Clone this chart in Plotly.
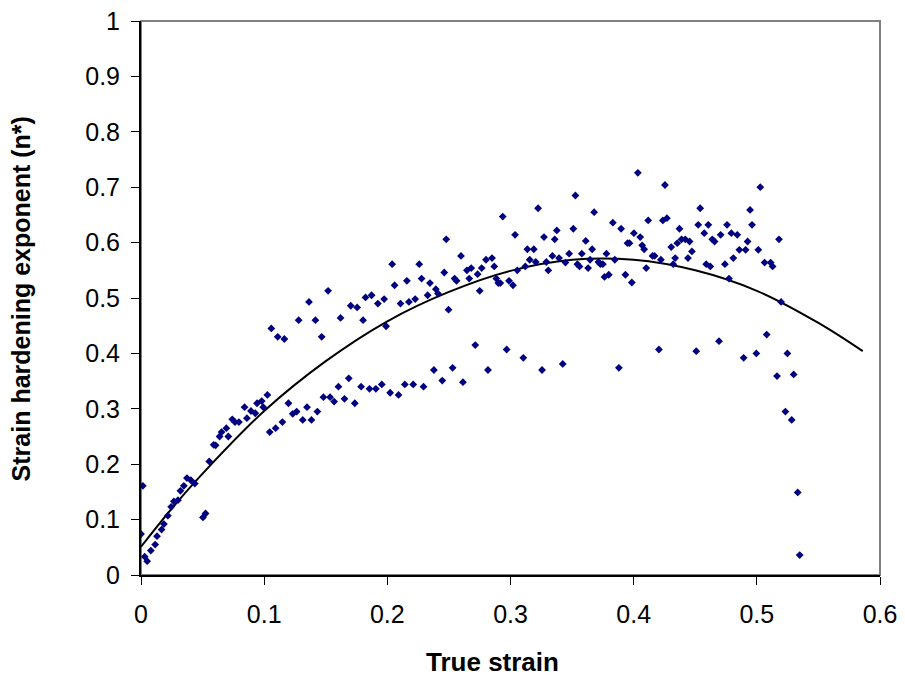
import plotly.graph_objects as go

# Measured points (true strain, n*)
strain = [
    0.0015, 0.0, 0.003, 0.005, 0.008, 0.0115, 0.013, 0.0167, 0.0186, 0.0218, 0.0245, 0.0267, 0.030, 0.032,
    0.0348, 0.0373, 0.0405, 0.0437, 0.0503, 0.0524, 0.0554, 0.059, 0.0606, 0.0638, 0.0654, 0.0693, 0.0709,
    0.0741, 0.0763, 0.0795, 0.0841, 0.086, 0.0893, 0.0928, 0.0942, 0.098, 0.0993, 0.1026,
    0.1045, 0.1093, 0.1148, 0.1197, 0.1232, 0.1264, 0.1313, 0.1348, 0.1384, 0.1432, 0.1481,
    0.1535, 0.1568, 0.1603, 0.1652, 0.1687, 0.1736, 0.1787, 0.1855, 0.1907, 0.1955, 0.2023, 0.2091, 0.2142,
    0.221, 0.2294, 0.2378, 0.2446, 0.253, 0.2614, 0.2714, 0.2817, 0.2969,
    0.3104, 0.3256, 0.3424, 0.388, 0.4205, 0.4508,
    0.4693, 0.4893, 0.4996, 0.508, 0.5164, 0.5248, 0.5299, 0.5232, 0.5283, 0.5332, 0.5348,
    0.1058, 0.111, 0.1164, 0.128, 0.1364, 0.1416, 0.1467, 0.1519, 0.162, 0.1703, 0.1755, 0.1803, 0.1823,
    0.1872, 0.1923, 0.1974, 0.199, 0.2039, 0.2059, 0.2107, 0.2159, 0.2175, 0.2226, 0.2259, 0.2278, 0.2327,
    0.2346, 0.2394, 0.2411, 0.2462, 0.2478, 0.2497, 0.2546, 0.2562, 0.2598, 0.2646, 0.2681, 0.2665, 0.2733,
    0.275, 0.2766, 0.2801, 0.285, 0.2868, 0.2885, 0.2901, 0.2917, 0.2937, 0.2988, 0.302, 0.3037, 0.3055,
    0.312, 0.3137, 0.3156, 0.3189, 0.3205, 0.3224, 0.3272, 0.3291, 0.3307, 0.334, 0.3359, 0.3376, 0.3394,
    0.3446, 0.3476, 0.351, 0.3527, 0.3543, 0.356, 0.3579, 0.3611, 0.363, 0.3646, 0.3663, 0.3679, 0.3714,
    0.373, 0.375, 0.3763, 0.3779, 0.3798, 0.3831, 0.3847, 0.3898, 0.3933, 0.395, 0.3966, 0.3985, 0.4002,
    0.4034, 0.4053, 0.4069, 0.4085, 0.4102, 0.4118, 0.4153, 0.417, 0.4221, 0.4237, 0.4254, 0.427, 0.4305,
    0.4321, 0.4337, 0.4354, 0.4372, 0.4389, 0.4419, 0.4441, 0.4454, 0.4473, 0.4524, 0.454,
    0.4573, 0.4589, 0.4606, 0.4622, 0.4638, 0.4657, 0.4706, 0.4741, 0.4758, 0.4774, 0.4793, 0.4809, 0.4841,
    0.4858, 0.4909, 0.4925, 0.4945, 0.4961, 0.5012, 0.5028, 0.5063, 0.5112, 0.5128, 0.518, 0.5197,
]
n_star = [
    0.161, 0.074, 0.033, 0.025, 0.044, 0.055, 0.070, 0.082, 0.092, 0.107, 0.123, 0.133, 0.135, 0.152,
    0.161, 0.175, 0.171, 0.165, 0.104, 0.111, 0.205, 0.235, 0.234, 0.250, 0.258, 0.265, 0.250,
    0.281, 0.276, 0.276, 0.303, 0.283, 0.296, 0.292, 0.310, 0.314, 0.303, 0.325,
    0.258, 0.265, 0.276, 0.310, 0.291, 0.295, 0.280, 0.303, 0.280, 0.295, 0.321,
    0.321, 0.313, 0.340, 0.318, 0.355, 0.310, 0.340, 0.336, 0.336, 0.344, 0.329, 0.325, 0.344,
    0.344, 0.340, 0.370, 0.351, 0.374, 0.348, 0.415, 0.370, 0.407,
    0.392, 0.370, 0.381, 0.374, 0.407, 0.404,
    0.422, 0.392, 0.400, 0.434, 0.359, 0.400, 0.362, 0.295, 0.280, 0.149, 0.036,
    0.445, 0.430, 0.426, 0.460, 0.493, 0.460, 0.430, 0.513, 0.464, 0.486, 0.483, 0.460, 0.501,
    0.505, 0.490, 0.498, 0.449, 0.561, 0.523, 0.490, 0.531, 0.493, 0.498, 0.561, 0.535, 0.505,
    0.527, 0.516, 0.508, 0.546, 0.606, 0.479, 0.535, 0.531, 0.576, 0.550, 0.554, 0.535, 0.543,
    0.513, 0.554, 0.569, 0.572, 0.557, 0.535, 0.527, 0.527, 0.647, 0.531, 0.523, 0.614, 0.550,
    0.557, 0.588, 0.569, 0.588, 0.565, 0.662, 0.610, 0.565, 0.550, 0.576, 0.606, 0.622, 0.572,
    0.564, 0.580, 0.625, 0.685, 0.561, 0.557, 0.580, 0.603, 0.554, 0.569, 0.588, 0.655, 0.565,
    0.561, 0.561, 0.538, 0.580, 0.542, 0.636, 0.569, 0.625, 0.542, 0.599, 0.599, 0.528, 0.617,
    0.726, 0.610, 0.595, 0.588, 0.554, 0.640, 0.576, 0.576, 0.569, 0.640, 0.704, 0.644, 0.592,
    0.561, 0.572, 0.599, 0.625, 0.606, 0.606, 0.572, 0.602, 0.584, 0.632, 0.662,
    0.617, 0.561, 0.632, 0.557, 0.606, 0.602, 0.614, 0.561, 0.632, 0.535, 0.617, 0.572, 0.614,
    0.587, 0.587, 0.602, 0.659, 0.632, 0.587, 0.700, 0.564, 0.564, 0.557, 0.606, 0.493,
]

# Trendline
trend_x = [0.0, 0.025, 0.05, 0.1, 0.15, 0.2, 0.25, 0.3, 0.35, 0.4, 0.45, 0.5, 0.55, 0.586]
trend_y = [0.051, 0.120, 0.183, 0.296, 0.386, 0.458, 0.511, 0.549, 0.569, 0.569, 0.550, 0.513, 0.455, 0.404]

x_ticks = [0, 0.1, 0.2, 0.3, 0.4, 0.5, 0.6]
x_tick_labels = ["0", "0.1", "0.2", "0.3", "0.4", "0.5", "0.6"]
y_ticks = [0, 0.1, 0.2, 0.3, 0.4, 0.5, 0.6, 0.7, 0.8, 0.9, 1]
y_tick_labels = ["0", "0.1", "0.2", "0.3", "0.4", "0.5", "0.6", "0.7", "0.8", "0.9", "1"]

x_title = "True strain"
y_title = "Strain hardening exponent (n*)"

fig = go.Figure()
fig.add_trace(go.Scatter(
    x=trend_x, y=trend_y, mode="lines",
    line=dict(color="black", width=2, shape="spline", smoothing=1.0),
    showlegend=False, hoverinfo="skip",
))
fig.add_trace(go.Scatter(
    x=strain, y=n_star, mode="markers",
    marker=dict(symbol="diamond", size=6, color="#000080"),
    showlegend=False,
))

font_family = "Liberation Sans, Arial, sans-serif"
fig.update_layout(
    width=905, height=679,
    margin=dict(l=141, r=25, t=21, b=104, autoexpand=False),
    paper_bgcolor="white", plot_bgcolor="white",
    font=dict(family=font_family, size=25, color="black"),
    shapes=[dict(type="rect", xref="paper", yref="paper", x0=0, y0=0, x1=1, y1=1,
                 line=dict(color="#808080", width=2), layer="below")],
    annotations=[
        dict(text="<b>" + x_title + "</b>", xref="paper", yref="paper",
             x=0.475, y=-0.157, xanchor="center", yanchor="middle",
             showarrow=False, font=dict(size=26)),
        dict(text="<b>" + y_title + "</b>", xref="paper", yref="paper",
             x=-0.162, y=0.498, xanchor="center", yanchor="middle", textangle=-90,
             showarrow=False, font=dict(size=25)),
    ],
)
fig.update_xaxes(
    range=[0, 0.6], tickvals=x_ticks, ticktext=x_tick_labels,
    showgrid=False, zeroline=False, automargin=False,
    showline=True, linecolor="black", linewidth=2,
    ticks="outside", ticklen=8, tickwidth=1, tickcolor="black",
    ticklabelstandoff=8,
    tickfont=dict(size=25),
)
fig.update_yaxes(
    range=[0, 1], tickvals=y_ticks, ticktext=y_tick_labels,
    showgrid=False, zeroline=False, automargin=False,
    showline=True, linecolor="black", linewidth=2,
    ticks="outside", ticklen=8, tickwidth=1, tickcolor="black",
    ticklabelstandoff=6,
    tickfont=dict(size=25),
)

fig.write_html("out.html")
